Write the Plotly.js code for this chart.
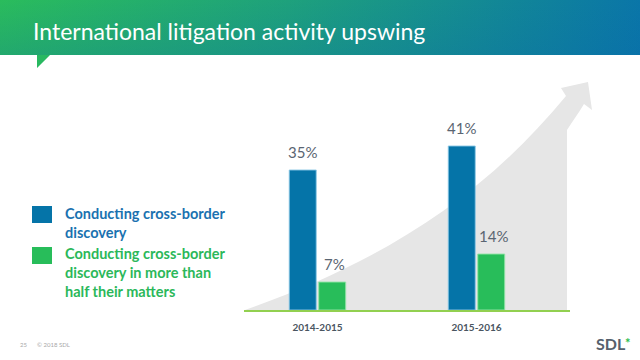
<!DOCTYPE html>
<html>
<head>
<meta charset="utf-8">
<script src="https://cdn.plot.ly/plotly-3.0.1.min.js"></script>
<style>html,body{margin:0;padding:0;background:#fff;}#chart{width:640px;height:360px;}</style>
</head>
<body>
<div id="chart"></div>
<script>
// ---- data ----
const categories = ['2014-2015', '2015-2016'];
const seriesNames = ['Conducting cross-border discovery', 'Conducting cross-border discovery in more than half their matters'];
const legendLines = [['Conducting cross-border', 'discovery'], ['Conducting cross-border', 'discovery in more than', 'half their matters']];
const crossBorder = [35, 41];
const moreThanHalf = [7, 14];
const chartTitle = 'International litigation activity upswing';
const footerPage = '25';
const footerCopy = '\u00a9 2018 SDL';

// ---- helpers (pixel -> paper) ----
const W = 640, H = 360;
const px = x => x / W;
const py = y => 1 - y / H;

const BLUE = '#0574a8';
const GREEN = '#28bd5a';
const FONT = 'Lato, "Open Sans", sans-serif';

const traces = [
  {
    type: 'bar', name: seriesNames[0], x: categories, y: crossBorder,
    marker: {color: BLUE, line: {color: 'rgba(140,200,230,0.9)', width: 1}},
    xaxis: 'x', yaxis: 'y', showlegend: false, hoverinfo: 'skip'
  },
  {
    type: 'bar', name: seriesNames[1], x: categories, y: moreThanHalf,
    marker: {color: GREEN, line: {color: 'rgba(150,230,170,0.9)', width: 1}},
    xaxis: 'x', yaxis: 'y', showlegend: false, hoverinfo: 'skip'
  },
  {
    // header banner with tail
    type: 'scatter', mode: 'lines', xaxis: 'x2', yaxis: 'y2',
    x: [0, 640, 640, 50, 37, 37, 0, 0],
    y: [0, 0, 55, 55, 68, 55, 55, 0],
    fill: 'toself', line: {width: 0},
    fillgradient: {type: 'horizontal', colorscale: [[0, '#2abc5c'], [0.45, '#1ea17c'], [1, '#0a76a8']]},
    showlegend: false, hoverinfo: 'skip'
  },
  {
    // slight vertical darkening of banner
    type: 'scatter', mode: 'lines', xaxis: 'x2', yaxis: 'y2',
    x: [0, 640, 640, 0, 0],
    y: [0, 0, 55, 55, 0],
    fill: 'toself', line: {width: 0},
    fillgradient: {type: 'vertical', colorscale: [[0, 'rgba(8,100,170,0.22)'], [1, 'rgba(8,100,170,0)']]},
    showlegend: false, hoverinfo: 'skip'
  }
];

// arrow path (decoration)
const arrowPts = 'M245,310 C380,262 480,200 566,96 L561,88 L588,82 L592,110 L584,104 C578,114 572,122 567,130 L567,310 Z';
function toPaperPath(p) {
  return p.replace(/(-?\d+(?:\.\d+)?),(-?\d+(?:\.\d+)?)/g, (m, a, b) => px(+a).toFixed(5) + ',' + py(+b).toFixed(5));
}

const shapes = [
  {type: 'path', xref: 'paper', yref: 'paper', path: toPaperPath(arrowPts), fillcolor: '#e6e6e6', line: {width: 0}, layer: 'below'},
  {type: 'rect', xref: 'paper', yref: 'paper', x0: px(32), x1: px(52), y0: py(206), y1: py(223), fillcolor: BLUE, line: {width: 0}},
  {type: 'rect', xref: 'paper', yref: 'paper', x0: px(32), x1: px(52), y0: py(247), y1: py(264), fillcolor: GREEN, line: {width: 0}}
];

const annotations = [
  {xref: 'paper', yref: 'paper', x: px(31), y: py(31), xanchor: 'left', yanchor: 'middle', showarrow: false,
   text: chartTitle, font: {family: FONT, size: 23, color: '#ffffff'}},
  {xref: 'paper', yref: 'paper', x: px(63), y: py(203), xanchor: 'left', yanchor: 'top', align: 'left', showarrow: false,
   text: legendLines[0].join('<br>'), font: {family: FONT, size: 14.5, color: '#1a72b0', weight: 'bold'}},
  {xref: 'paper', yref: 'paper', x: px(63), y: py(243), xanchor: 'left', yanchor: 'top', align: 'left', showarrow: false,
   text: legendLines[1].join('<br>'), font: {family: FONT, size: 14.5, color: '#2bb85a', weight: 'bold'}},
  {xref: 'paper', yref: 'paper', x: px(23), y: py(344), xanchor: 'center', yanchor: 'middle', showarrow: false,
   text: footerPage, font: {family: FONT, size: 6, color: '#a8a8a8'}},
  {xref: 'paper', yref: 'paper', x: px(35), y: py(344), xanchor: 'left', yanchor: 'middle', showarrow: false,
   text: footerCopy, font: {family: FONT, size: 6, color: '#a8a8a8'}},
  {xref: 'paper', yref: 'paper', x: px(611), y: py(343), xanchor: 'center', yanchor: 'middle', showarrow: false,
   text: 'SDL', font: {family: FONT, size: 16, color: '#56616d', weight: 'bold'}},
  {xref: 'paper', yref: 'paper', x: px(628), y: py(343), xanchor: 'center', yanchor: 'middle', showarrow: false,
   text: '*', font: {family: FONT, size: 13, color: '#2bbd4a', weight: 'bold'}}
];

// value labels from the data arrays
categories.forEach((c, i) => {
  annotations.push({x: c, y: crossBorder[i], xref: 'x', yref: 'y', xshift: -15, yshift: 7, yanchor: 'bottom', showarrow: false,
    text: crossBorder[i] + '%', font: {family: FONT, size: 15, color: '#5a6572'}});
  annotations.push({x: c, y: moreThanHalf[i], xref: 'x', yref: 'y', xshift: 17, yshift: 7, yanchor: 'bottom', showarrow: false,
    text: moreThanHalf[i] + '%', font: {family: FONT, size: 15, color: '#5a6572'}});
});

const layout = {
  width: W, height: H,
  margin: {l: 0, r: 0, t: 0, b: 0, pad: 0},
  paper_bgcolor: '#ffffff', plot_bgcolor: 'rgba(0,0,0,0)',
  barmode: 'group', bargap: 0.629, bargroupgap: 0.085,
  showlegend: false, hovermode: false,
  xaxis: {
    type: 'category', domain: [px(244), px(570)], range: [-0.462, 1.588],
    showline: true, linecolor: '#92d050', linewidth: 2, showgrid: false, zeroline: false,
    ticks: '', ticklabelstandoff: 7, fixedrange: true,
    tickfont: {family: FONT, size: 10, color: '#4a5561', weight: 'bold'}, anchor: 'y'
  },
  yaxis: {
    domain: [py(310), py(80)], range: [0, 57.5], visible: false, showgrid: false, zeroline: false, fixedrange: true, anchor: 'x'
  },
  xaxis2: {domain: [0, 1], range: [0, 640], visible: false, anchor: 'y2', fixedrange: true},
  yaxis2: {domain: [0, 1], range: [360, 0], visible: false, anchor: 'x2', fixedrange: true},
  shapes: shapes,
  annotations: annotations
};

Plotly.newPlot('chart', traces, layout, {displayModeBar: false, staticPlot: true});
</script>
</body>
</html>
